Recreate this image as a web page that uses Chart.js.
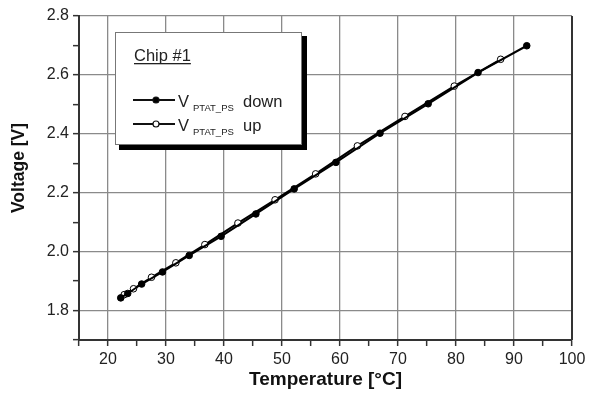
<!DOCTYPE html>
<html>
<head>
<meta charset="utf-8">
<script src="https://cdn.jsdelivr.net/npm/chart.js@4"></script>
<style>
  html, body { margin: 0; padding: 0; background: #fff; }
  canvas { display: block; }
</style>
</head>
<body>
<canvas id="chart" width="591" height="394"></canvas>
<script>
// data
const tempDown = [22.2, 23.4, 25.8, 29.4, 34.0, 39.5, 45.5, 52.1, 59.3, 66.9, 75.2, 83.8, 92.2];
const voltDown = [1.843, 1.858, 1.890, 1.931, 1.987, 2.052, 2.128, 2.213, 2.303, 2.402, 2.502, 2.608, 2.699];
const tempUp = [22.8, 24.4, 27.5, 31.7, 36.7, 42.4, 48.8, 55.8, 63.0, 71.2, 79.7, 87.7];
const voltUp = [1.854, 1.874, 1.913, 1.962, 2.024, 2.097, 2.176, 2.264, 2.359, 2.459, 2.562, 2.653];

const xTicks = [15, 20, 25, 30, 35, 40, 45, 50, 55, 60, 65, 70, 75, 80, 85, 90, 95, 100];
const xLabels = ["20", "30", "40", "50", "60", "70", "80", "90", "100"];
const yTicks = [1.7, 1.8, 1.9, 2.0, 2.1, 2.2, 2.3, 2.4, 2.5, 2.6, 2.7, 2.8];
const yLabels = ["1.8", "2.0", "2.2", "2.4", "2.6", "2.8"];

const legendTitle = "Chip #1";
const seriesNames = ["down", "up"];
const yTitle = "Voltage [V]";

const FONT = "'Liberation Sans', Arial, sans-serif";

function isMajorX(v) { return xLabels.includes(String(v)); }
function isMajorY(v) { return yLabels.includes(v.toFixed(1)); }

function pts(xs, ys) { return xs.map((x, i) => ({ x: x, y: ys[i] })); }

const legendBox = {
  id: "legendBox",
  afterDraw(chart) {
    const ctx = chart.ctx;
    ctx.save();
    // shadow and box
    ctx.fillStyle = "#000";
    ctx.fillRect(119, 36, 188, 114);
    ctx.fillStyle = "#fff";
    ctx.fillRect(115, 32, 187, 113);
    ctx.strokeStyle = "#777";
    ctx.lineWidth = 1;
    ctx.strokeRect(115.5, 32.5, 186, 112);

    ctx.fillStyle = "#222";
    ctx.textBaseline = "alphabetic";
    ctx.font = "16.5px " + FONT;
    ctx.fillText(legendTitle, 134, 61);
    const w = ctx.measureText(legendTitle).width;
    ctx.fillRect(134, 63, w, 1.3);

    const rows = [100, 124];
    rows.forEach((y, i) => {
      ctx.strokeStyle = "#111";
      ctx.lineWidth = 2;
      ctx.beginPath();
      ctx.moveTo(133, y);
      ctx.lineTo(175, y);
      ctx.stroke();
      ctx.beginPath();
      ctx.arc(156, y, 3, 0, Math.PI * 2);
      ctx.fillStyle = i === 0 ? "#000" : "#fff";
      ctx.fill();
      ctx.lineWidth = 1.2;
      ctx.stroke();

      ctx.fillStyle = "#222";
      ctx.font = "16.5px " + FONT;
      ctx.fillText("V", 178, y + 7);
      ctx.font = "9.5px " + FONT;
      ctx.fillText("PTAT_PS", 193, y + 11);
      ctx.font = "16.5px " + FONT;
      ctx.fillText(seriesNames[i], 243, y + 7);
    });

    // y axis title
    ctx.save();
    ctx.translate(19, 168);
    ctx.rotate(-Math.PI / 2);
    ctx.font = "bold 17.5px " + FONT;
    ctx.fillStyle = "#111";
    ctx.textAlign = "center";
    ctx.textBaseline = "middle";
    ctx.fillText(yTitle, 0, 0);
    ctx.restore();

    // right frame line
    const a = chart.chartArea;
    ctx.strokeStyle = "#333";
    ctx.lineWidth = 2;
    ctx.beginPath();
    ctx.moveTo(a.right, a.top);
    ctx.lineTo(a.right, a.bottom);
    ctx.stroke();
    ctx.restore();
  }
};

new Chart(document.getElementById("chart"), {
  type: "scatter",
  data: {
    datasets: [
      {
        label: "down",
        data: pts(tempDown, voltDown),
        showLine: true,
        borderColor: "#000",
        borderWidth: 2,
        backgroundColor: "#000",
        pointRadius: 3.3,
        pointBorderWidth: 1,
        pointBorderColor: "#000"
      },
      {
        label: "up",
        data: pts(tempUp, voltUp),
        showLine: true,
        borderColor: "#000",
        borderWidth: 2,
        backgroundColor: "#fff",
        pointRadius: 3.3,
        pointBorderWidth: 1,
        pointBorderColor: "#000"
      }
    ]
  },
  options: {
    responsive: false,
    animation: false,
    events: [],
    layout: { padding: { top: 16, right: 19, left: 0, bottom: 0 } },
    plugins: { legend: { display: false }, tooltip: { enabled: false } },
    scales: {
      x: {
        type: "linear",
        min: 15,
        max: 100,
        afterBuildTicks(scale) { scale.ticks = xTicks.map(v => ({ value: v })); },
        afterFit(scale) { scale.height = 54; },
        ticks: {
          autoSkip: false,
          maxRotation: 0,
          padding: 4,
          color: "#222",
          font: { family: FONT, size: 16 },
          callback: v => (isMajorX(v) ? String(v) : "")
        },
        grid: {
          color: ctx => (ctx.tick && isMajorX(ctx.tick.value) && ctx.tick.value !== 100 ? "#8a8a8a" : "rgba(0,0,0,0)"),
          lineWidth: 1.3,
          tickColor: "#333",
          tickLength: 6,
          tickWidth: 1.5
        },
        border: { color: "#333", width: 2 },
        title: {
          display: true,
          text: "Temperature [°C]",
          color: "#111",
          font: { family: FONT, size: 19, weight: "bold" },
          padding: { top: 0, bottom: 3 }
        }
      },
      y: {
        type: "linear",
        min: 1.7,
        max: 2.8,
        afterBuildTicks(scale) { scale.ticks = yTicks.map(v => ({ value: v })); },
        afterFit(scale) { scale.width = 79; },
        ticks: {
          autoSkip: false,
          padding: 4,
          color: "#222",
          font: { family: FONT, size: 16 },
          callback: v => (isMajorY(v) ? v.toFixed(1) : "")
        },
        grid: {
          color: ctx => (ctx.tick && isMajorY(ctx.tick.value) ? "#8a8a8a" : "rgba(0,0,0,0)"),
          lineWidth: 1.3,
          tickColor: "#333",
          tickLength: 6,
          tickWidth: 1.5
        },
        border: { color: "#333", width: 2 }
      }
    }
  },
  plugins: [legendBox]
});
</script>
</body>
</html>
